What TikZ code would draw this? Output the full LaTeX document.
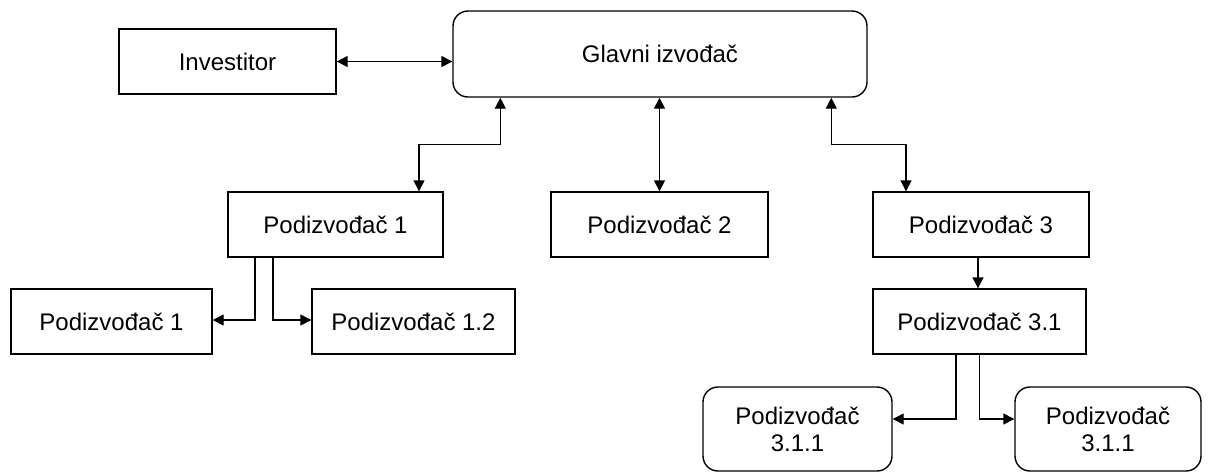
\documentclass[tikz,border=0pt]{standalone}
\usepackage{fontspec}
\setmainfont{Liberation Sans}
\usetikzlibrary{arrows.meta, calc, positioning}

\begin{document}
\begin{tikzpicture}[x=0.5pt,y=-0.5pt]
    \tikzset{>={Triangle[length=5.5pt,width=5.5pt]}}
    \def\px{0.5pt}
    \tikzset{box/.style={draw,line width=0.7pt,inner sep=0pt,align=center,
        font=\fontsize{12}{13.5}\selectfont,minimum height=65*\px}}
    \tikzset{rbox/.style={box,rounded corners=7.5pt}}
    \tikzset{link/.style={line width=0.7pt}}
    \useasboundingbox (0,0) rectangle (1221,473);

    % top row
    \node[box,minimum width=217*\px] (inv) at (227.5,61.5) {Investitor};
    \node[rbox,minimum width=414*\px,minimum height=86*\px] (glavni) at (660,54) {Glavni izvođač};

    % podizvodaci
    \node[box,minimum width=215*\px] (p1) at (335.5,224.5) {Podizvođač 1};
    \node[box,minimum width=217*\px] (p2) at (659.5,224.5) {Podizvođač 2};
    \node[box,minimum width=216*\px] (p3) at (981,224.5) {Podizvođač 3};
    \node[box,minimum width=201*\px] (p11) at (111.5,321.5) {Podizvođač 1};
    \node[box,minimum width=203*\px] (p12) at (413.5,321.5) {Podizvođač 1.2};
    \node[box,minimum width=213*\px] (p31) at (979.5,321.5) {Podizvođač 3.1};
    \node[rbox,minimum width=189*\px,minimum height=84*\px] (p311a) at (797.5,429) {Podizvođač\\3.1.1};
    \node[rbox,minimum width=186*\px,minimum height=84*\px] (p311b) at (1108,429) {Podizvođač\\3.1.1};

    \draw[link,<->] (inv.east) -- (inv.east -| glavni.west);
    \draw[link,<->] ($(glavni.south west)+(48,0)$) -- ++(0,47) -| ($(p1.north)+(83.5,0)$);
    \draw[link,<->] (glavni.south -| p2.north) -- (p2.north);
    \draw[link,<->] ($(glavni.south west)+(379,0)$) -- ++(0,47) -| ($(p3.north)+(-75,0)$);
    \draw[link,->] ($(p1.south)+(-80.5,0)$) |- ($(p11.east)+(0,-1.5)$);
    \draw[link,->] ($(p1.south)+(-62.5,0)$) |- ($(p12.west)+(0,-1.5)$);
    \draw[link,->] (p3.south -| 978,0) -- (p31.north -| 978,0);
    \draw[link,->] ($(p31.south)+(-23.5,0)$) |- ($(p311a.east)+(0,-10)$);
    \draw[link,->] (p31.south) |- ($(p311b.west)+(0,-10)$);
  \end{tikzpicture}
\end{document}
